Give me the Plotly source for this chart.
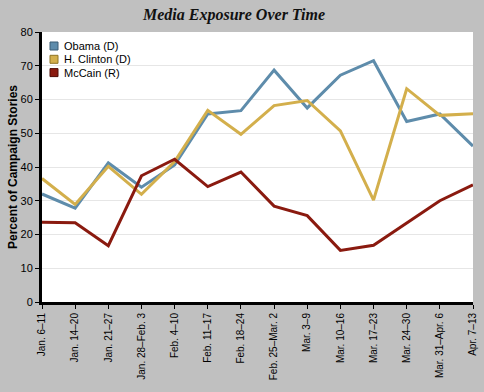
import plotly.graph_objects as go

weeks = ["Jan. 6\u201311", "Jan. 14\u201320", "Jan. 21\u201327", "Jan. 28\u2013Feb. 3",
         "Feb. 4\u201310", "Feb. 11\u201317", "Feb. 18\u201324", "Feb. 25\u2013Mar. 2",
         "Mar. 3\u20139", "Mar. 10\u201316", "Mar. 17\u201323", "Mar. 24\u201330",
         "Mar. 31\u2013Apr. 6", "Apr. 7\u201313"]
obama = [32.0, 27.8, 41.2, 34.0, 40.6, 55.7, 56.7, 68.7, 57.5, 67.2, 71.5, 53.5, 55.7, 46.2]
clinton = [36.6, 28.9, 40.2, 31.9, 41.6, 56.8, 49.7, 58.2, 59.7, 50.7, 30.2, 63.2, 55.3, 55.8]
mccain = [23.6, 23.5, 16.7, 37.4, 42.3, 34.2, 38.5, 28.4, 25.6, 15.3, 16.8, 23.3, 30.0, 34.7]

names = ["Obama (D)", "H. Clinton (D)", "McCain (R)"]
colors = ["#5e8cab", "#d3af4c", "#8a1a0f"]
borders = ["#3b5d75", "#8f7424", "#4f0c06"]
series = [obama, clinton, mccain]

W, H = 484, 392
L, R, T, B = 42, 11, 32, 90

fig = go.Figure()
for name, vals, c in zip(names, series, colors):
    fig.add_trace(go.Scatter(x=weeks, y=vals, mode="lines", name=name,
                             line=dict(color=c, width=3), showlegend=False))

# custom compact legend (top-left inside plot)
pw, ph = W - L - R, H - T - B
for i, (name, c, bc) in enumerate(zip(names, colors, borders)):
    cy = 46 + i * 13.3
    fig.add_shape(type="rect", xref="paper", yref="paper",
                  x0=(50 - L) / pw, x1=(58 - L) / pw,
                  y0=(H - B - (cy + 4)) / ph, y1=(H - B - (cy - 4)) / ph,
                  fillcolor=c, line=dict(color=bc, width=1))
    fig.add_annotation(text=name, xref="paper", yref="paper",
                       x=(62 - L) / pw, y=(H - B - cy) / ph,
                       xanchor="left", yanchor="middle", showarrow=False,
                       font=dict(size=11, color="#000"))

fig.update_layout(
    width=W, height=H, showlegend=False,
    paper_bgcolor="#c0c0c0", plot_bgcolor="#ffffff",
    margin=dict(l=L, r=R, t=T, b=B),
    font=dict(family="Liberation Sans, Arial, sans-serif", size=11, color="#000"),
    title=dict(text="<b><i>Media Exposure Over Time</i></b>",
               font=dict(family="Liberation Serif, Times New Roman, serif", size=16, color="#111"),
               x=234 / W, xanchor="center", y=1 - 14 / H, yanchor="middle"),
    xaxis=dict(range=[0, 13], tickangle=-90, showgrid=False, automargin=False,
               showline=True, linecolor="#000", linewidth=3, ticklabeloverflow="allow",
               ticks="outside", ticklen=4, tickcolor="#000", tickwidth=1,
               tickfont=dict(size=10), fixedrange=True),
    yaxis=dict(range=[0, 80], dtick=10, showgrid=True, gridcolor="#e6e6e6", gridwidth=1,
               showline=True, linecolor="#000", linewidth=3, zeroline=False, automargin=False,
               ticks="outside", ticklen=4, tickcolor="#000", tickwidth=1,
               title=dict(text="<b>Percent of Campaign Stories</b>", font=dict(size=12), standoff=1),
               tickfont=dict(size=11)),
)

fig.write_html("out.html", config={"displayModeBar": False},
               post_script="document.body.style.margin='0';document.body.style.background='#c0c0c0';")
